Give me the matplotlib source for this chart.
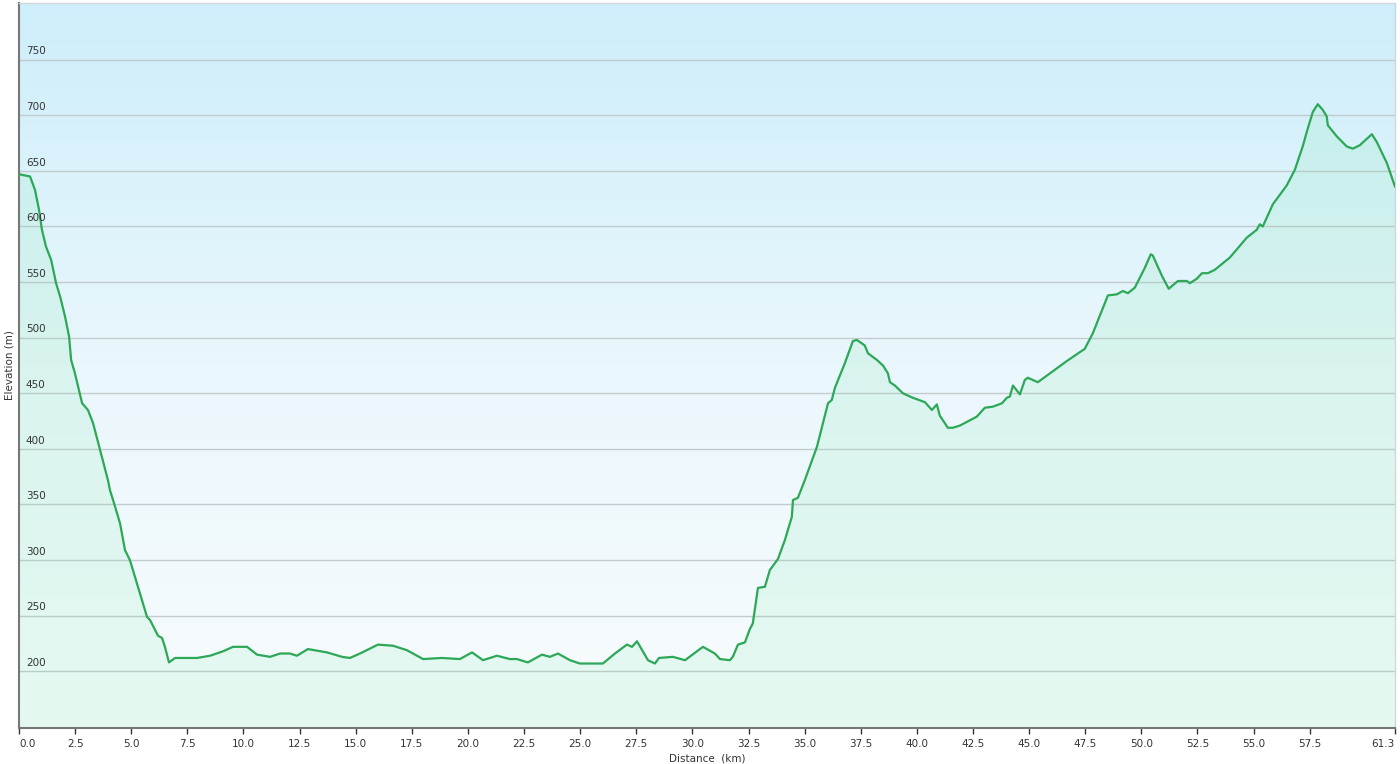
import numpy as np
import matplotlib
matplotlib.use('Agg')
import matplotlib.pyplot as plt
from matplotlib.colors import LinearSegmentedColormap

# elevation profile
dist_km = [0.00, 0.49, 0.71, 0.89, 1.02, 1.20, 1.43, 1.65, 1.83, 2.05, 2.23, 2.32, 2.49, 2.67,
           2.81, 3.07, 3.30, 3.61, 3.96, 4.05, 4.28, 4.50, 4.72, 4.94, 5.30, 5.70, 5.84, 6.19,
           6.37, 6.50, 6.68, 6.95, 7.17, 7.93, 8.51, 9.09, 9.53, 10.16, 10.60, 11.18, 11.63,
           12.07, 12.38, 12.87, 13.72, 14.39, 14.74, 15.19, 15.99, 16.66, 17.28, 18.00, 18.84,
           19.64, 20.18, 20.67, 21.29, 21.87, 22.18, 22.67, 23.30, 23.65, 24.01, 24.54, 24.99,
           25.52, 26.01, 26.55, 27.08, 27.31, 27.53, 28.02, 28.33, 28.51, 29.13, 29.67, 30.47,
           31.00, 31.23, 31.67, 31.80, 32.03, 32.34, 32.56, 32.69, 32.92, 33.23, 33.45, 33.81,
           34.12, 34.43, 34.48, 34.70, 35.01, 35.55, 36.04, 36.21, 36.35, 36.79, 37.15, 37.33,
           37.68, 37.82, 38.22, 38.49, 38.71, 38.80, 39.02, 39.38, 39.82, 40.36, 40.67, 40.89,
           41.02, 41.38, 41.60, 41.92, 42.67, 43.03, 43.39, 43.79, 44.01, 44.14, 44.28, 44.59,
           44.81, 44.94, 45.39, 46.68, 47.48, 47.84, 48.51, 48.91, 49.18, 49.40, 49.71, 50.16,
           50.42, 50.51, 50.91, 51.22, 51.63, 52.03, 52.16, 52.47, 52.70, 52.96, 53.27, 53.94,
           54.70, 55.14, 55.28, 55.41, 55.86, 56.48, 56.84, 57.19, 57.37, 57.64, 57.86, 58.08,
           58.26, 58.31, 58.71, 59.15, 59.42, 59.73, 60.27, 60.49, 60.94, 61.30]
elev_m = [647, 645, 633, 615, 597, 582, 570, 549, 537, 519, 501, 480, 468, 453,
          441, 435, 423, 399, 372, 363, 348, 333, 309, 300, 276, 249, 246, 232,
          230, 222, 208, 212, 212, 212, 214, 218, 222, 222, 215, 213, 216,
          216, 214, 220, 217, 213, 212, 216, 224, 223, 219, 211, 212,
          211, 217, 210, 214, 211, 211, 208, 215, 213, 216, 210, 207,
          207, 207, 216, 224, 222, 227, 210, 207, 212, 213, 210, 222,
          216, 211, 210, 213, 224, 226, 238, 243, 275, 276, 291, 301,
          318, 339, 354, 356, 372, 402, 441, 444, 455, 477, 497, 498,
          493, 486, 480, 475, 468, 460, 457, 450, 446, 442, 435, 440,
          430, 419, 419, 421, 429, 437, 438, 441, 446, 447, 457, 449,
          462, 464, 460, 479, 490, 504, 538, 539, 542, 540, 545, 563,
          575, 574, 556, 544, 551, 551, 549, 553, 558, 558, 561, 572,
          590, 597, 602, 600, 620, 637, 651, 672, 685, 703, 710, 705,
          699, 691, 681, 672, 670, 673, 683, 676, 657, 636]

x_ticks = [0, 2.5, 5, 7.5, 10, 12.5, 15, 17.5, 20, 22.5, 25, 27.5, 30, 32.5, 35,
           37.5, 40, 42.5, 45, 47.5, 50, 52.5, 55, 57.5, 61.3]
y_grid = [200, 250, 300, 350, 400, 450, 500, 550, 600, 650, 700, 750]

fig = plt.figure(figsize=(14, 7.64), dpi=100)
ax = fig.add_axes([0.0136, 0.0471, 0.9828, 0.949])
x_max = dist_km[-1]
y_lo, y_hi = 149, 801

# background gradient: sky blue at top to near white at bottom
bg = LinearSegmentedColormap.from_list('bg', ['#f8fcfe', '#eaf7fc', '#cdeefa'])
grad = np.linspace(0, 1, 256).reshape(-1, 1)
ax.imshow(grad, cmap=bg, aspect='auto', origin='lower',
          extent=[0, x_max, y_lo, y_hi], zorder=0)

# grid lines + labels sitting inside the plot
for g in y_grid:
    ax.axhline(g, color='#c4cbcf', lw=1.0, zorder=1)
    ax.text(0.005, g + 3, str(g), transform=ax.get_yaxis_transform(),
            fontsize=7.5, color='#333333', ha='left', va='bottom', zorder=4)

ax.fill_between(dist_km, elev_m, y_lo, color='#48e07e', alpha=0.1, lw=0, zorder=2)
ax.plot(dist_km, elev_m, color='#2ca857', lw=1.6, zorder=3)

ax.set_xlim(0, x_max)
ax.set_ylim(y_lo, y_hi)
ax.set_yticks([])
ax.set_xticks(x_ticks)
ax.set_xticklabels(['%.1f' % t for t in x_ticks], fontsize=7.5, color='#333333')
labels = ax.get_xticklabels()
labels[0].set_ha('left')
labels[-1].set_ha('right')
ax.tick_params(axis='x', length=4, width=1, color='#333333', pad=4)

ax.set_xlabel('Distance  (km)', fontsize=7.5, color='#333333', labelpad=3)
ax.set_ylabel('Elevation (m)', fontsize=7.5, color='#333333')
ax.yaxis.set_label_coords(-0.003, 0.5)

for s in ['left', 'bottom']:
    ax.spines[s].set_color('#777777')
    ax.spines[s].set_linewidth(1.5)
for s in ['top', 'right']:
    ax.spines[s].set_color('#d0d6da')
    ax.spines[s].set_linewidth(1.0)

plt.savefig('out.png', dpi=100)
plt.close()
